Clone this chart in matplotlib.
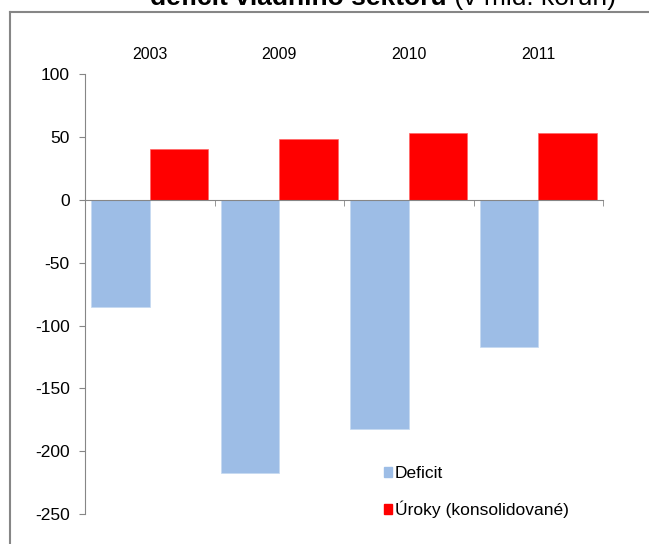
import matplotlib.pyplot as plt
from matplotlib.patches import Patch
from matplotlib.lines import Line2D

plt.rcParams['font.family'] = ['Liberation Sans', 'DejaVu Sans']
plt.rcParams['axes.unicode_minus'] = False

# Data (mld. Kč)
roky = ["2003", "2009", "2010", "2011"]
deficit = [-85, -217, -182, -117]
uroky = [40.5, 48.5, 53, 53]

W, H = 649, 544
fig = plt.figure(figsize=(W / 100, H / 100), dpi=100)

# outer chart frame (cut off on right and bottom)
fig.add_artist(Line2D([10 / W, 10 / W], [1 - 12 / H, 0], transform=fig.transFigure,
                      color="#868686", lw=1.5))
fig.add_artist(Line2D([10 / W, 1], [1 - 12 / H, 1 - 12 / H], transform=fig.transFigure,
                      color="#868686", lw=1.5))

# title (partly cut off at the top)
t1 = fig.text(150 / W, 1 - 5 / H, "deficit vládního sektoru", fontsize=19,
              fontweight="bold", ha="left", va="baseline")
fig.canvas.draw()
bb = t1.get_window_extent()
fig.text(bb.x1 / W, 1 - 5 / H, " (v mld. korun)", fontsize=19,
         ha="left", va="baseline")

ax = fig.add_axes([85 / W, 1 - 514 / H, 518 / W, (514 - 74.3) / H])

x = list(range(len(roky)))
w = 0.45
ax.bar([i - w / 2 for i in x], deficit, width=w, color="#9DBDE6",
       edgecolor="#C5D9F1", linewidth=0.5, label="Deficit")
ax.bar([i + w / 2 for i in x], uroky, width=w, color="#FF0000",
       edgecolor="#FF6666", linewidth=0.5, label="Úroky (konsolidované)")

ax.set_xlim(-0.5, len(roky) - 0.5)
ax.set_ylim(-250, 100)
ax.set_yticks(range(-250, 101, 50))

for s in ["top", "right"]:
    ax.spines[s].set_visible(False)
ax.spines["left"].set_color("#868686")
ax.spines["bottom"].set_color("#868686")
ax.spines["bottom"].set_position(("data", 0))

ax.set_xticks(x)
ax.set_xticklabels(roky)
ax.set_xticks([i + 0.5 for i in range(-1, len(roky))], minor=True)
ax.tick_params(axis="x", which="major", bottom=False, top=False,
               labelbottom=False, labeltop=True, pad=5, labelsize=11.5)
ax.tick_params(axis="x", which="minor", bottom=True, top=False, length=4,
               color="#868686", direction="out")
ax.tick_params(axis="y", length=4, color="#868686", labelsize=12.5, pad=7)

handles = [Patch(color="#9DBDE6"), Patch(color="#FF0000")]
fig.legend(handles, ["Deficit", "Úroky (konsolidované)"], loc="center left",
           bbox_to_anchor=(375 / W, 1 - 492 / H), frameon=False, fontsize=12.5,
           handlelength=0.5, handleheight=0.5, handletextpad=0.15,
           labelspacing=1.1, borderpad=0)

fig.savefig("out.png", dpi=100)
